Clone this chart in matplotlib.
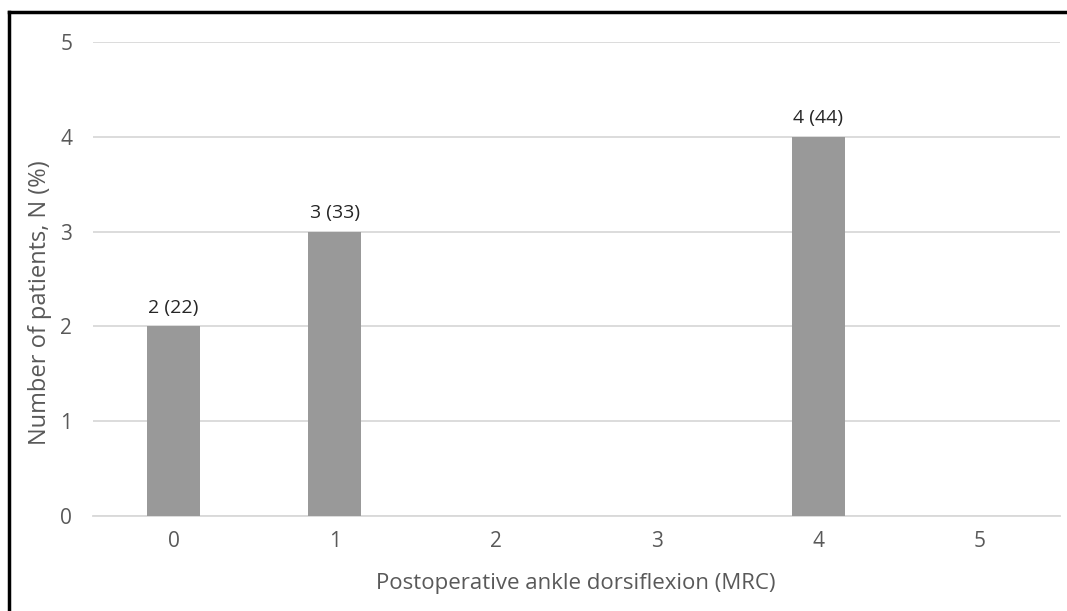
import matplotlib.pyplot as plt
from matplotlib.lines import Line2D

# Datos
grados = [0, 1, 2, 3, 4, 5]
pacientes = [2, 3, 0, 0, 4, 0]
etiquetas = ['2 (22)', '3 (33)', '', '', '4 (44)', '']
yticks = [0, 1, 2, 3, 4, 5]

plt.rcParams['font.family'] = ['Open Sans', 'DejaVu Sans']

fig = plt.figure(figsize=(10.67, 6.11), dpi=100)
ax = fig.add_axes([93 / 1067, 95 / 611, 967 / 1067, 474 / 611])

ax.bar(grados, pacientes, width=0.33, color='#999999', zorder=3)
for x, v, t in zip(grados, pacientes, etiquetas):
    if t:
        ax.text(x, v + 0.1, t, ha='center', va='bottom', fontsize=14, color='#262626')

ax.set_xlim(-0.5, 5.5)
ax.set_ylim(0, 5)
ax.set_yticks(yticks)
ax.set_xticks(grados)
ax.grid(axis='y', color='#d9d9d9', linewidth=1.3, zorder=0)
ax.set_axisbelow(True)
for s in ['top', 'right', 'left']:
    ax.spines[s].set_visible(False)
ax.spines['bottom'].set_color('#d9d9d9')
ax.spines['bottom'].set_linewidth(1.3)
ax.tick_params(length=0, labelsize=15, labelcolor='#595959')
ax.tick_params(axis='y', pad=15)
ax.tick_params(axis='x', pad=11)

# Títulos de ejes
fig.text(576 / 1067, 1 - 583 / 611, 'Postoperative ankle dorsiflexion (MRC)',
         ha='center', va='center', fontsize=16, color='#595959')
fig.text(40 / 1067, 1 - 303 / 611, 'Number of patients, N (%)',
         ha='center', va='center', rotation=90, fontsize=17, color='#595959')

# Marco negro
fig.add_artist(Line2D([9 / 1067, 9 / 1067], [0, 1 - 12 / 611], color='black', linewidth=2.5, transform=fig.transFigure))
fig.add_artist(Line2D([9 / 1067, 1], [1 - 12 / 611, 1 - 12 / 611], color='black', linewidth=2.5, transform=fig.transFigure))

fig.savefig('out.png', dpi=100)
